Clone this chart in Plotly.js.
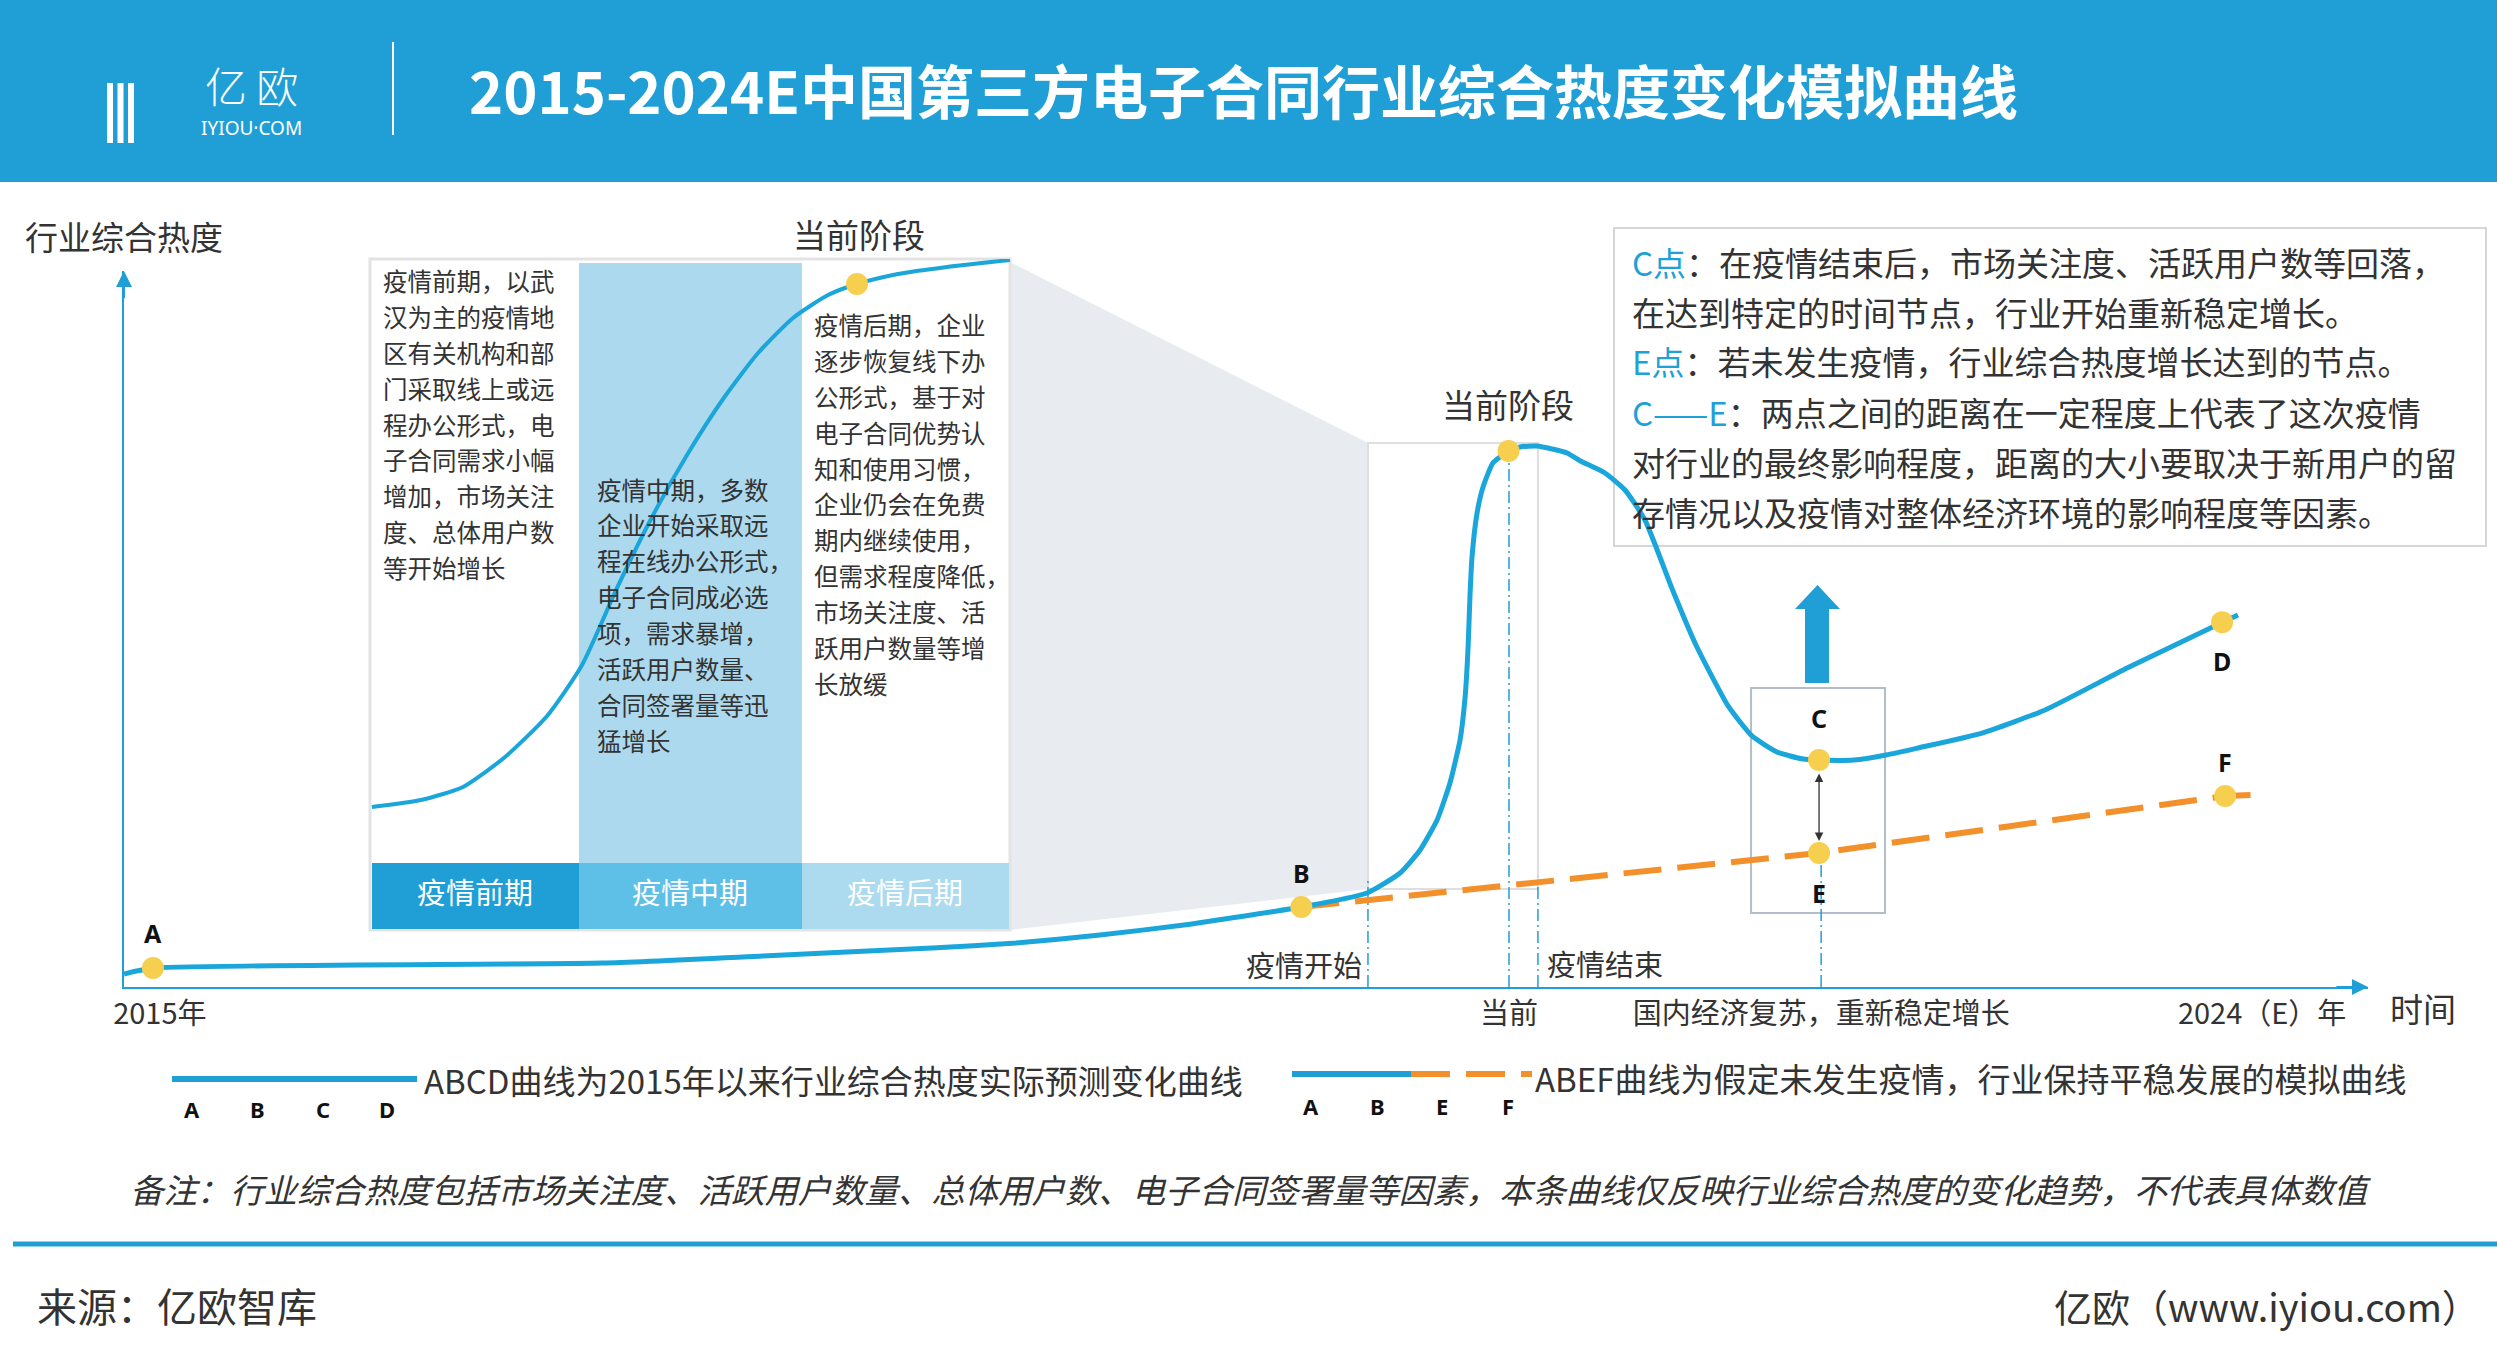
<!DOCTYPE html>
<html>
<head>
<meta charset="utf-8">
<script src="https://cdn.plot.ly/plotly-3.0.1.min.js"></script>
<style>html,body{margin:0;padding:0;background:#fff;overflow:hidden}#chart{width:2497px;height:1366px}</style>
</head>
<body>
<div id="chart"></div>
<script>
// ================= DATA =================
// Main ABCD curve: x = year, y = composite heat index (arbitrary units 0-100)
const curveYears = [2014.874, 2015.0, 2016.959, 2017.656, 2018.392, 2018.758, 2019.123, 2019.489, 2020.0, 2020.286, 2020.430, 2020.517, 2020.591, 2020.647, 2020.691, 2020.713, 2020.726, 2020.734, 2020.743, 2020.765, 2020.791, 2020.834, 2020.902, 2020.952, 2021.026, 2021.157, 2021.213, 2021.322, 2021.409, 2021.496, 2021.618, 2021.718, 2021.858, 2021.962, 2022.071, 2022.184, 2022.254, 2022.406, 2022.546, 2022.685, 2022.964, 2023.238, 2023.595, 2024.013, 2024.078];
const curveHeat  = [1.82, 2.65, 3.35, 4.33, 5.45, 6.15, 7.26, 8.66, 11.17, 13.13, 15.92, 19.13, 23.32, 28.49, 34.50, 40.50, 47.49, 54.47, 60.06, 66.20, 69.83, 73.18, 74.86, 75.42, 75.56, 74.58, 73.5, 71.79, 69.41, 65.22, 55.31, 47.77, 39.25, 35.06, 32.82, 31.84, 31.70, 31.70, 32.40, 33.38, 35.47, 38.69, 44.55, 50.98, 51.96];
// ABEF baseline (no-epidemic scenario)
const baseYears = [2020.0, 2022.254, 2024.022, 2024.143];
const baseHeat  = [11.17, 18.72, 26.68, 26.82];
// Key points
const keyLabels = ['A', 'B', 'C', 'D', 'E', 'F'];
const keyYears  = [2015.0, 2020.0, 2022.254, 2024.009, 2022.254, 2024.022];
const keyHeat   = [2.65, 11.17, 31.70, 50.96, 18.72, 26.68];
const peakYear = 2020.902, peakHeat = 74.86;
// Events on the time axis
const eventNames = ['疫情开始', '当前', '疫情结束'];
const eventYears = [2020.29, 2020.904, 2021.03];
const eYearLine = 2022.263;
const stageHeatRange = [13.69, 75.98];
const cBoxYears = [2021.958, 2022.541];
const cBoxHeat = [10.34, 41.76];
// X axis tick labels
const xTickVals = [2015.03, 2020.904, 2022.263, 2024.183];
const xTickText = ['2015年', '当前', '国内经济复苏，重新稳定增长', '2024（E）年'];
// Inset: "current stage" zoom, x = phase (0-3), y = heat
const phaseX    = [0.009, 0.239, 0.436, 0.633, 0.830, 0.994, 1.158, 1.322, 1.486, 1.655, 1.819, 1.983, 2.147, 2.283, 2.475, 2.705, 3.0];
const phaseHeat = [9.35, 10.50, 12.66, 17.62, 24.40, 32.84, 45.58, 57.32, 67.58, 76.84, 84.45, 90.24, 94.04, 95.86, 97.52, 98.68, 99.83];
const insetDotX = 2.283, insetDotHeat = 95.86;
const phaseNames = ['疫情前期', '疫情中期', '疫情后期'];
const phaseTexts = [
  ['疫情前期，以武', '汉为主的疫情地', '区有关机构和部', '门采取线上或远', '程办公形式，电', '子合同需求小幅', '增加，市场关注', '度、总体用户数', '等开始增长'],
  ['疫情中期，多数', '企业开始采取远', '程在线办公形式，', '电子合同成必选', '项，需求暴增，', '活跃用户数量、', '合同签署量等迅', '猛增长'],
  ['疫情后期，企业', '逐步恢复线下办', '公形式，基于对', '电子合同优势认', '知和使用习惯，', '企业仍会在免费', '期内继续使用，', '但需求程度降低，', '市场关注度、活', '跃用户数量等增', '长放缓']
];
const infoLines = [
  ['C点', '：在疫情结束后，市场关注度、活跃用户数等回落，'],
  ['', '在达到特定的时间节点，行业开始重新稳定增长。'],
  ['E点', '：若未发生疫情，行业综合热度增长达到的节点。'],
  ['C——E', '：两点之间的距离在一定程度上代表了这次疫情'],
  ['', '对行业的最终影响程度，距离的大小要取决于新用户的留'],
  ['', '存情况以及疫情对整体经济环境的影响程度等因素。']
];
const titleText = '2015-2024E中国第三方电子合同行业综合热度变化模拟曲线';
const yTitle = '行业综合热度';
const xTitle = '时间';
const stageTitle = '当前阶段';
const legend1Letters = ['A', 'B', 'C', 'D'];
const legend1Text = 'ABCD曲线为2015年以来行业综合热度实际预测变化曲线';
const legend2Letters = ['A', 'B', 'E', 'F'];
const legend2Text = 'ABEF曲线为假定未发生疫情，行业保持平稳发展的模拟曲线';
const noteText = '备注：行业综合热度包括市场关注度、活跃用户数量、总体用户数、电子合同签署量等因素，本条曲线仅反映行业综合热度的变化趋势，不代表具体数值';
const sourceText = '来源：亿欧智库';
const brandText = '亿欧（www.iyiou.com）';

// ================= STYLE / LAYOUT =================
const W = 2497, H = 1366;
const X = v => v / W;
const Y = v => 1 - v / H;
const CJK = 'Noto Sans CJK SC, Noto Sans, sans-serif';
const BLUE = '#1f9fd5', CURVE = '#1aa6da', ORANGE = '#f2902c', YELLOW = '#f6cf4f', TXT = '#333333';

function ann(xp, yp, text, size, o) {
  o = o || {};
  return {
    xref: 'paper', yref: 'paper', x: X(xp), y: Y(yp), text: text, showarrow: false,
    xanchor: o.xanchor || 'center', yanchor: 'middle',
    font: {family: o.family || CJK, size: size, color: o.color || TXT, weight: o.weight || 'normal'}
  };
}
function rectP(x0, y0, x1, y1, fill, line, lw, layer) {
  return {type: 'rect', xref: 'paper', yref: 'paper', x0: X(x0), x1: X(x1), y0: Y(y1), y1: Y(y0),
    fillcolor: fill, line: {color: line || 'rgba(0,0,0,0)', width: lw || 0}, layer: layer || 'below'};
}
function lineP(x0, y0, x1, y1, color, w, dash) {
  return {type: 'line', xref: 'paper', yref: 'paper', x0: X(x0), x1: X(x1), y0: Y(y0), y1: Y(y1),
    line: {color: color, width: w, dash: dash || 'solid'}, layer: 'below'};
}
function pathP(pts, fill) {
  const d = pts.map((p, i) => (i ? 'L' : 'M') + X(p[0]).toFixed(5) + ',' + Y(p[1]).toFixed(5)).join(' ') + ' Z';
  return {type: 'path', xref: 'paper', yref: 'paper', path: d, fillcolor: fill, line: {width: 0}, layer: 'below'};
}

const traces = [
  {x: baseYears, y: baseHeat, xaxis: 'x', yaxis: 'y', mode: 'lines', type: 'scatter',
   line: {color: ORANGE, width: 6, dash: '38px,16px'}, hoverinfo: 'skip'},
  {x: curveYears, y: curveHeat, xaxis: 'x', yaxis: 'y', mode: 'lines', type: 'scatter',
   line: {color: CURVE, width: 5, shape: 'spline', smoothing: 0.5}, hoverinfo: 'skip'},
  {x: keyYears.concat([peakYear]), y: keyHeat.concat([peakHeat]), xaxis: 'x', yaxis: 'y', mode: 'markers', type: 'scatter',
   marker: {color: YELLOW, size: 22, line: {width: 0}}, hoverinfo: 'skip'},
  {x: phaseX, y: phaseHeat, xaxis: 'x2', yaxis: 'y2', mode: 'lines', type: 'scatter',
   line: {color: CURVE, width: 4, shape: 'spline', smoothing: 0.6}, hoverinfo: 'skip'},
  {x: [insetDotX], y: [insetDotHeat], xaxis: 'x2', yaxis: 'y2', mode: 'markers', type: 'scatter',
   marker: {color: YELLOW, size: 22}, hoverinfo: 'skip'}
];

const shapes = [];
// header
shapes.push(rectP(0, 0, W, 182, BLUE));
shapes.push(rectP(107, 83, 113, 143, '#ffffff'));
shapes.push(rectP(117.5, 83, 123.5, 143, '#ffffff'));
shapes.push(rectP(128, 83, 134, 143, '#ffffff'));
shapes.push(lineP(393, 42, 393, 135, '#ffffff', 2));
// projection from small stage box to inset
shapes.push(pathP([[1010, 262], [1368, 443], [1368, 889], [1010, 930]], '#e8ecf1'));
// inset frame and columns
shapes.push(rectP(370, 259, 1010, 930, '#ffffff', '#e3e3e3', 3));
shapes.push(rectP(579, 263, 802, 863, '#acd9ed'));
shapes.push(rectP(372, 863, 579, 929, '#1f9fd5'));
shapes.push(rectP(579, 863, 802, 929, '#5ec0e7'));
shapes.push(rectP(802, 863, 1009, 929, '#acdaee'));
// info box
shapes.push(rectP(1614, 228, 2486, 546, '#ffffff', '#d6d6d6', 2));
// legend samples
shapes.push(lineP(172, 1079, 417, 1079, BLUE, 6));
shapes.push(lineP(1292, 1074, 1411, 1074, BLUE, 6));
shapes.push(lineP(1411, 1074, 1532, 1074, ORANGE, 6, '39px,16px'));
// footer rule
shapes.push(rectP(13, 1241.5, W, 1246.5, BLUE));
// data-referenced guides
shapes.push({type: 'rect', xref: 'x', yref: 'y', x0: eventYears[0], x1: eventYears[2], y0: stageHeatRange[0], y1: stageHeatRange[1],
  fillcolor: 'rgba(0,0,0,0)', line: {color: '#dedede', width: 2}, layer: 'below'});
shapes.push({type: 'rect', xref: 'x', yref: 'y', x0: cBoxYears[0], x1: cBoxYears[1], y0: cBoxHeat[0], y1: cBoxHeat[1],
  fillcolor: 'rgba(0,0,0,0)', line: {color: '#b3bdc7', width: 2}, layer: 'below'});
const guideTops = [14.8, peakHeat, 15.4];
eventYears.forEach((yr, i) => {
  shapes.push({type: 'line', xref: 'x', yref: 'y', x0: yr, x1: yr, y0: 0, y1: guideTops[i],
    line: {color: BLUE, width: 1.5, dash: '12px,4px,2px,4px'}, layer: 'below'});
});
shapes.push({type: 'line', xref: 'x', yref: 'y', x0: eYearLine, x1: eYearLine, y0: 0, y1: keyHeat[4],
  line: {color: BLUE, width: 1.5, dash: '12px,4px,2px,4px'}, layer: 'below'});
// big up arrow
const arrowPts = [[1805, 683], [1805, 609], [1795, 609], [1817.5, 585], [1840, 609], [1829, 609], [1829, 683]];
const arrowShape = pathP(arrowPts, BLUE); arrowShape.layer = 'above';
shapes.push(arrowShape);

const annotations = [];
// header
annotations.push(ann(467, 89, titleText, 58, {xanchor: 'left', color: '#ffffff', weight: 'bold'}));
annotations.push(ann(251, 84, '亿 欧', 42, {color: '#ffffff', weight: 300}));
annotations.push(ann(251, 128, 'IYIOU·COM', 19, {color: '#ffffff', family: 'Noto Sans, sans-serif'}));
// axis titles
annotations.push(ann(124, 236, yTitle, 33));
annotations.push(ann(2423, 1008, xTitle, 33));
// axis arrowheads
annotations.push({xref: 'x', yref: 'y', axref: 'x', ayref: 'y', x: 2024.644, y: 0, ax: 2024.5, ay: 0, text: '',
  showarrow: true, arrowhead: 2, arrowsize: 1.6, arrowwidth: 2, arrowcolor: BLUE, standoff: 0});
annotations.push({xref: 'x', yref: 'y', axref: 'x', ayref: 'y', x: 2014.874, y: 100, ax: 2014.874, ay: 96, text: '',
  showarrow: true, arrowhead: 2, arrowsize: 1.6, arrowwidth: 2, arrowcolor: BLUE, standoff: 0});
// stage titles
annotations.push(ann(859, 234, stageTitle, 33));
annotations.push(ann(1508, 404, stageTitle, 33));
// inset texts
const colX = [381, 595, 812], colY0 = [280.5, 489, 324.4], lh = 35.9;
phaseTexts.forEach((lines, c) => {
  lines.forEach((t, i) => annotations.push(ann(colX[c], colY0[c] + i * lh, t, 24.5, {xanchor: 'left'})));
});
const barCx = [475, 690, 905];
phaseNames.forEach((n, i) => annotations.push(ann(barCx[i], 891, n, 29, {color: '#ffffff'})));
// info box
const infoY = [262, 312, 361, 412, 462, 512];
infoLines.forEach((l, i) => {
  const t = (l[0] ? '<span style="color:#1ea0d8">' + l[0] + '</span>' : '') + l[1];
  annotations.push(ann(1630, infoY[i], t, 33, {xanchor: 'left'}));
});
// point labels
const labelShift = [35, 34, 42, -39, -40, 34];
keyLabels.forEach((L, i) => {
  annotations.push({xref: 'x', yref: 'y', x: keyYears[i], y: keyHeat[i], yshift: labelShift[i], text: L, showarrow: false,
    xanchor: 'center', yanchor: 'middle', font: {family: 'Noto Sans, sans-serif', size: 25, color: '#111', weight: 'bold'}});
});
// C-E double arrow
annotations.push({xref: 'x', yref: 'y', axref: 'x', ayref: 'y', x: keyYears[4], y: keyHeat[4], ax: keyYears[2], ay: keyHeat[2],
  text: '', showarrow: true, arrowhead: 2, startarrowhead: 2, arrowside: 'end+start', arrowsize: 1.3, startarrowsize: 1.3,
  arrowwidth: 1.3, arrowcolor: '#333', standoff: 12, startstandoff: 12});
// event labels
annotations.push({xref: 'x', yref: 'y', x: eventYears[0], y: 3.2, xshift: -4, text: eventNames[0], showarrow: false,
  xanchor: 'right', yanchor: 'middle', font: {family: CJK, size: 29, color: TXT}});
annotations.push({xref: 'x', yref: 'y', x: eventYears[2], y: 3.4, xshift: 7, text: eventNames[2], showarrow: false,
  xanchor: 'left', yanchor: 'middle', font: {family: CJK, size: 29, color: TXT}});
// legends
const l1x = [192, 257, 323, 387], l2x = [1311, 1377, 1442, 1508];
legend1Letters.forEach((L, i) => annotations.push(ann(l1x[i], 1109, L, 22, {family: 'Noto Sans, sans-serif', weight: 'bold', color: '#111'})));
legend2Letters.forEach((L, i) => annotations.push(ann(l2x[i], 1106, L, 22, {family: 'Noto Sans, sans-serif', weight: 'bold', color: '#111'})));
annotations.push(ann(422, 1080, legend1Text, 33, {xanchor: 'left'}));
annotations.push(ann(1533, 1078, legend2Text, 33, {xanchor: 'left'}));
// note
annotations.push(ann(1251, 1188, '<i>' + noteText + '</i>', 33.4));
// footer
annotations.push(ann(35, 1305, sourceText, 40, {xanchor: 'left'}));
annotations.push(ann(2482, 1305, brandText, 38, {xanchor: 'right'}));

const axisOff = {showgrid: false, zeroline: false, showticklabels: false, ticks: '', fixedrange: true};
const layout = {
  width: W, height: H, margin: {l: 0, r: 0, t: 0, b: 0, pad: 0},
  paper_bgcolor: '#ffffff', plot_bgcolor: 'rgba(0,0,0,0)', showlegend: false, hovermode: false,
  xaxis: Object.assign({}, axisOff, {domain: [X(124), X(2368)], range: [2014.874, 2024.644], anchor: 'y',
    showline: true, linecolor: BLUE, linewidth: 2, showticklabels: true, tickmode: 'array', tickvals: xTickVals,
    ticktext: xTickText, tickangle: 0, ticklabelstandoff: 0, tickfont: {family: CJK, size: 29, color: TXT}}),
  yaxis: Object.assign({}, axisOff, {domain: [Y(987), Y(271)], range: [0, 100], anchor: 'x',
    showline: true, linecolor: BLUE, linewidth: 2}),
  xaxis2: Object.assign({}, axisOff, {domain: [X(370), X(1010)], range: [0, 3], anchor: 'y2', visible: false}),
  yaxis2: Object.assign({}, axisOff, {domain: [Y(930), Y(259)], range: [-11, 100], anchor: 'x2', visible: false}),
  shapes: shapes,
  annotations: annotations
};
Plotly.newPlot('chart', traces, layout, {staticPlot: true, displayModeBar: false});
</script>
</body>
</html>
